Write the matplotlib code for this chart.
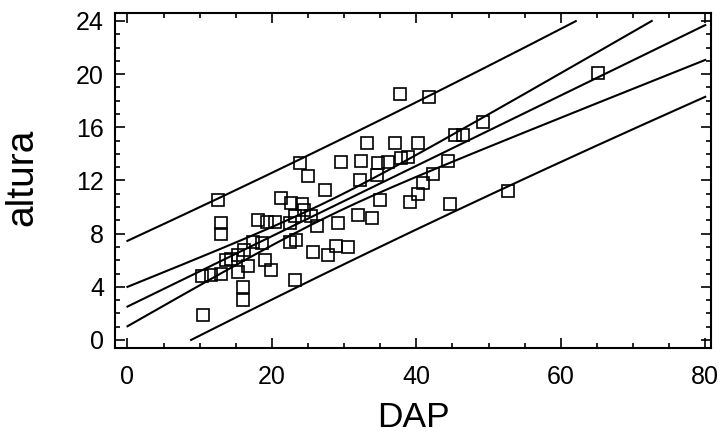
import matplotlib
matplotlib.use("Agg")
import matplotlib.pyplot as plt
import numpy as np

plt.rcParams['font.family'] = ['Liberation Sans', 'DejaVu Sans']

# DAP (x) and altura (y)
dap = np.array([10.4, 10.3, 11.6, 13.0, 12.6, 13.0, 13.0,
                13.7, 14.4, 15.3, 16.2, 15.3, 16.0, 16.0, 16.7,
                17.4, 18.6, 18.1, 19.3, 20.4, 19.0, 19.9,
                21.3, 22.7, 24.1, 23.2, 22.5, 22.5, 23.4, 23.2,
                23.9, 25.0, 26.2, 27.3, 25.7, 27.8, 28.9, 30.5,
                29.2, 31.9, 33.8, 24.5, 25.4,
                29.6, 32.4, 33.1, 34.7, 36.1, 37.0, 37.9, 38.9, 40.2,
                32.2, 34.5, 34.9,
                37.8, 41.8, 39.1, 40.2, 40.9, 42.3, 44.4, 45.3, 46.5,
                49.2, 44.6, 52.7, 65.1])
altura = np.array([1.9, 4.8, 4.9, 5.0, 10.5, 8.8, 8.0,
                   6.0, 6.1, 6.4, 6.8, 5.1, 4.0, 3.0, 5.6,
                   7.4, 7.3, 9.0, 8.9, 8.9, 6.0, 5.3,
                   10.65, 10.3, 10.2, 9.3, 8.8, 7.4, 7.5, 4.5,
                   13.3, 12.3, 8.6, 11.3, 6.6, 6.4, 7.1, 7.0,
                   8.8, 9.4, 9.2, 9.8, 9.3,
                   13.4, 13.5, 14.8, 13.3, 13.4, 14.8, 13.7, 13.8, 14.8,
                   12.0, 12.4, 10.5,
                   18.5, 18.3, 10.4, 11.0, 11.8, 12.5, 13.5, 15.4, 15.4,
                   16.4, 10.2, 11.2, 20.05])

# simple linear regression with 95% confidence and prediction limits
n = len(dap)
b1, b0 = np.polyfit(dap, altura, 1)
resid = altura - (b0 + b1 * dap)
s = np.sqrt(np.sum(resid ** 2) / (n - 2))
t = 1.995
xm = dap.mean()
sxx = np.sum((dap - xm) ** 2)

xg = np.linspace(0, 80, 800)
fit = b0 + b1 * xg
conf = t * s * np.sqrt(1 / n + (xg - xm) ** 2 / sxx)
pred = t * s * np.sqrt(1 + 1 / n + (xg - xm) ** 2 / sxx)

fig = plt.figure(figsize=(7.2, 4.41), dpi=100)
ax = fig.add_axes([0.160, 0.211, 0.8275, 0.7595])

for yy in [fit, fit + conf, fit - conf, fit + pred, fit - pred]:
    yy = np.where((yy > 24) | (yy < 0), np.nan, yy)
    ax.plot(xg, yy, color='black', lw=1.5)

ax.plot(dap, altura, linestyle='none', marker='s', markersize=8.5,
        markerfacecolor='none', markeredgecolor='black', markeredgewidth=1.2)

ax.set_xlim(-1.7, 80.8)
ax.set_ylim(-0.6, 24.6)
ax.set_xticks([0, 20, 40, 60, 80])
ax.set_yticks([0, 4, 8, 12, 16, 20, 24])
ax.set_xticks(np.arange(0, 81, 5), minor=True)
ax.set_yticks(np.arange(0, 25, 1), minor=True)
ax.tick_params(which='both', direction='in', top=True, right=True,
               labelsize=18, width=1.2)
ax.tick_params(axis='x', which='major', length=7, pad=12)
ax.tick_params(axis='y', which='major', length=7, pad=8)
ax.tick_params(which='minor', length=3.5)
for sp in ax.spines.values():
    sp.set_linewidth(1.5)

ax.set_xlabel('DAP', fontsize=25.5, labelpad=9)
ax.set_ylabel('altura', fontsize=28)
ax.yaxis.set_label_coords(-0.125, 0.51)

fig.savefig('out.png', dpi=100)
